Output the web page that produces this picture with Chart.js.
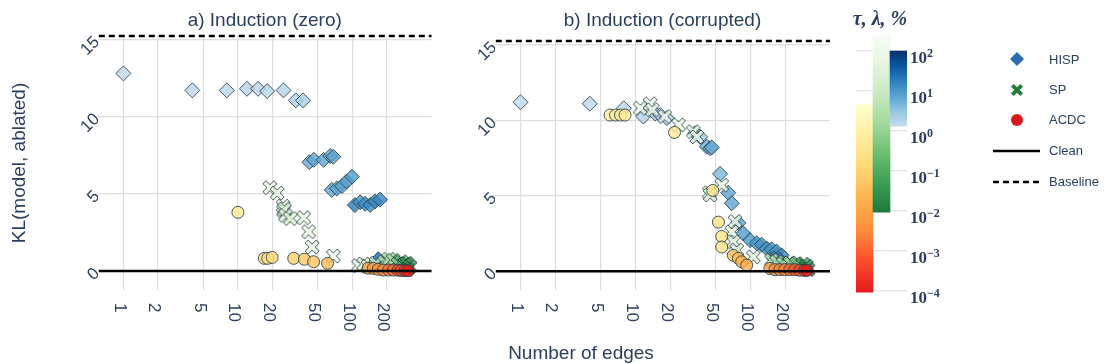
<!DOCTYPE html>
<html>
<head>
<meta charset="utf-8">
<script src="https://cdn.jsdelivr.net/npm/chart.js@4.4.1/dist/chart.umd.min.js"></script>
<style>
  body { margin: 0; background: #fff; }
  #wrap { position: relative; width: 1106px; height: 364px; overflow: hidden; }
  canvas { position: absolute; top: 0; }
</style>
</head>
<body>
<div id="wrap">
  <canvas id="panelA" width="440" height="364" style="left:0"></canvas>
  <canvas id="panelB" width="400" height="364" style="left:440px"></canvas>
  <canvas id="scaleBar" width="266" height="364" style="left:840px"></canvas>
</div>
<script>
// ---- axis ticks / limits
const edgeTicks = [1, 2, 5, 10, 20, 50, 100, 200];
const klTicks = [0, 5, 10, 15];
const barTicks = [1e-4, 1e-3, 1e-2, 1e-1, 1, 10, 100];
const barExp = ['\u22124', '\u22123', '\u22122', '\u22121', '0', '1', '2'];
const edgeMin = 0.61, edgeMax = 490;

// ---- a) Induction (zero)
const baselineA = 15.22, klMinA = -1.23;
const hispEdgesA = [1, 4, 8, 12, 15, 18, 25, 32, 37, 42, 46, 56, 64, 68, 66, 73, 81, 89, 99, 105, 117, 129, 143, 157, 174, 168, 190, 240, 290];
const hispKlA    = [12.8, 11.7, 11.7, 11.8, 11.8, 11.65, 11.7, 11.05, 11.05, 7.05, 7.2, 7.2, 7.45, 7.4, 5.25, 5.35, 5.5, 5.8, 6.1, 4.27, 4.45, 4.35, 4.28, 4.5, 4.62, 0.76, 0.5, 0.4, 0.3];
const hispPctA   = [1.5, 1.6, 1.6, 1.7, 1.7, 1.8, 1.9, 2.2, 2.2, 6, 7, 6.5, 7, 7.5, 7, 7.5, 8, 8.5, 9, 18, 12, 13, 14, 15, 16, 30, 40, 60, 80];
const spEdgesA = [19, 22, 24.8, 25, 25.5, 26, 28.7, 37.5, 41.4, 44.4, 68, 113, 125, 137, 160, 190, 207, 227, 250, 267, 288, 297, 318, 300];
const spKlA    = [5.4, 5.05, 4.2, 3.9, 4.0, 3.6, 3.4, 3.45, 2.55, 1.55, 0.97, 0.35, 0.45, 0.3, 0.5, 0.6, 0.76, 0.7, 0.45, 0.6, 0.45, 0.5, 0.28, 0.1];
const spLamA   = [60, 60, 40, 30, 25, 40, 35, 60, 60, 60, 60, 50, 40, 30, 8, 4, 3, 2, 0.5, 0.1, 0.05, 0.03, 0.02, 0.015];
const acdcEdgesA = [10, 17, 18.2, 19.9, 30.7, 38, 45.8, 60.6, 137, 152, 168, 186, 207, 227, 251, 267, 288, 305];
const acdcKlA    = [3.8, 0.82, 0.82, 0.88, 0.82, 0.76, 0.6, 0.5, 0.18, 0.17, 0.11, 0.06, 0.06, 0.06, 0.05, 0.04, 0.03, 0.02];
const acdcTauA   = [0.5, 0.2, 0.2, 0.15, 0.08, 0.06, 0.05, 0.03, 0.01, 0.008, 0.005, 0.003, 0.002, 0.0012, 0.0007, 0.0004, 0.0002, 0.0001];

// ---- b) Induction (corrupted)
const baselineB = 15.26, klMinB = -1.25;
const hispEdgesB = [1, 4, 7.9, 11.7, 14.8, 16.4, 18.7, 33, 36.4, 41.6, 44.5, 46, 54.3, 64, 68.6, 78.3, 86.5, 99, 113, 125, 138, 152, 168, 186, 160, 180, 230, 280];
const hispKlB    = [11.2, 11.1, 10.8, 10.25, 10.45, 10.35, 10.15, 9.15, 8.9, 8.25, 8.15, 8.2, 6.45, 5.2, 4.5, 3.2, 2.5, 2.05, 1.85, 1.75, 1.5, 1.45, 1.3, 1.05, 0.85, 0.75, 0.45, 0.3];
const hispPctB   = [1.5, 1.6, 1.7, 2, 2, 2.2, 2.2, 2.5, 2.5, 5.5, 6, 6, 4.5, 7, 7, 8, 9, 10, 10, 11, 12, 12, 13, 14, 15, 20, 30, 40];
const spEdgesB = [11, 13.4, 14, 17.9, 23.6, 31.8, 34.1, 43.8, 44.5, 56.1, 73.3, 68.6, 70.8, 75.7, 105.5, 152, 168, 192, 220, 250, 286, 306, 316];
const spKlB    = [10.8, 11.1, 10.7, 10.25, 9.7, 9.25, 8.9, 5.2, 5.05, 5.7, 3.3, 2.6, 1.95, 1.4, 0.95, 0.73, 0.62, 0.5, 0.55, 0.5, 0.46, 0.33, 0.11];
const spLamB   = [80, 90, 80, 80, 70, 70, 60, 70, 70, 60, 60, 50, 40, 40, 30, 5, 3, 2, 1, 0.3, 0.05, 0.02, 0.012];
const acdcEdgesB = [6, 6.7, 7.4, 8.1, 21.8, 46.9, 52.5, 56.1, 56.1, 70.8, 78.3, 83.7, 92.5, 147, 163, 179, 198, 219, 242, 267, 295, 310];
const acdcKlB    = [10.35, 10.35, 10.35, 10.35, 9.2, 5.35, 3.25, 2.3, 1.6, 1.05, 0.85, 0.62, 0.4, 0.18, 0.1, 0.1, 0.1, 0.1, 0.1, 0.06, 0.05, 0.05];
const acdcTauB   = [0.7, 0.7, 0.6, 0.6, 0.5, 0.3, 0.25, 0.25, 0.25, 0.04, 0.03, 0.02, 0.015, 0.008, 0.005, 0.003, 0.002, 0.0012, 0.0007, 0.0004, 0.0002, 0.0001];

// ---- colour scales (tau / lambda / %)
const acdcRange = [9.4e-5, 4.5];
const spRange = [0.0094, 250];
const hispRange = [1.33, 100];
const acdcStops = ['#e31a1c', '#fc4e2a', '#fd8d3c', '#feb24c', '#fed976', '#ffeda0', '#ffffcc'];
const spStops = ['#1e7b3b', '#3a9e55', '#6cbf72', '#a1d99b', '#c7e9c0', '#e5f5e0', '#f7fcf5'];
const hispStops = ['#c6dbef', '#9ecae1', '#6baed6', '#4292c6', '#2171b5', '#08519c', '#08306b'];

const ink = '#2a3f5f';
const gridInk = '#dedede';
const edgeInk = 'rgba(40,62,70,0.85)';

Chart.defaults.font.family = '"Liberation Sans", Arial, sans-serif';
Chart.defaults.color = ink;

function hexRgb(h) {
  return [parseInt(h.slice(1, 3), 16), parseInt(h.slice(3, 5), 16), parseInt(h.slice(5, 7), 16)];
}
function scaleColour(stops, range, v, alpha) {
  const lo = Math.log10(range[0]), hi = Math.log10(range[1]);
  let t = (Math.log10(v) - lo) / (hi - lo);
  t = Math.max(0, Math.min(1, t));
  const p = t * (stops.length - 1);
  const i = Math.min(Math.floor(p), stops.length - 2);
  const f = p - i;
  const a = hexRgb(stops[i]), b = hexRgb(stops[i + 1]);
  const c = a.map((x, k) => Math.round(x + (b[k] - x) * f));
  return `rgba(${c[0]},${c[1]},${c[2]},${alpha})`;
}

function crossPath(g, cx, cy, r, a) {
  const pts = [[0, -a], [r - a, -r], [r, -(r - a)], [a, 0], [r, r - a], [r - a, r],
               [0, a], [-(r - a), r], [-r, r - a], [-a, 0], [-r, -(r - a)], [-(r - a), -r]];
  g.beginPath();
  pts.forEach(([px, py], i) => i ? g.lineTo(cx + px, cy + py) : g.moveTo(cx + px, cy + py));
  g.closePath();
}
function crossImage(fill) {
  const c = document.createElement('canvas');
  c.width = c.height = 18;
  const g = c.getContext('2d');
  crossPath(g, 9, 9, 7, 3);
  g.fillStyle = fill;
  g.fill();
  g.strokeStyle = edgeInk;
  g.lineWidth = 1;
  g.stroke();
  return c;
}

function pts(xs, ys) { return xs.map((x, i) => ({ x: x, y: ys[i] })); }

// rotated edge labels, panel titles
const panelDecor = {
  id: 'panelDecor',
  afterDraw(chart, args, o) {
    const { ctx, chartArea, scales: { x } } = chart;
    ctx.save();
    ctx.fillStyle = ink;
    ctx.font = '17px "Liberation Sans", Arial, sans-serif';
    ctx.textAlign = 'left';
    ctx.textBaseline = 'middle';
    x.ticks.forEach(t => {
      ctx.save();
      ctx.translate(x.getPixelForValue(t.value), chartArea.bottom + 13);
      ctx.rotate(Math.PI / 2);
      ctx.fillText(String(t.value), 0, 4);
      ctx.restore();
    });
    ctx.font = '19px "Liberation Sans", Arial, sans-serif';
    ctx.textAlign = 'center';
    ctx.fillText(o.title, (chartArea.left + chartArea.right) / 2, 21);
    if (o.xTitle) ctx.fillText(o.xTitle, o.xTitleX, 354);
    ctx.restore();
  }
};

function makePanel(id, s, o) {
  const hispFill = s.hispPct.map(v => scaleColour(hispStops, hispRange, v, 0.8));
  const spImgs = s.spLam.map(v => crossImage(scaleColour(spStops, spRange, v, 0.8)));
  const acdcFill = s.acdcTau.map(v => scaleColour(acdcStops, acdcRange, v, 0.8));
  return new Chart(document.getElementById(id), {
    type: 'scatter',
    data: {
      datasets: [
        { type: 'line', label: 'Baseline', data: [{ x: edgeMin, y: o.baseline }, { x: edgeMax, y: o.baseline }],
          borderColor: '#000', borderWidth: 2.5, borderDash: [6, 4], pointRadius: 0, clip: false, order: 0 },
        { type: 'line', label: 'Clean', data: [{ x: edgeMin, y: 0 }, { x: edgeMax, y: 0 }],
          borderColor: '#000', borderWidth: 2.5, pointRadius: 0, clip: false, order: 1 },
        { label: 'ACDC', data: pts(s.acdcEdges, s.acdcKl), pointStyle: 'circle', pointRadius: 6,
          pointBackgroundColor: acdcFill, pointBorderColor: edgeInk, pointBorderWidth: 1, order: 2 },
        { label: 'SP', data: pts(s.spEdges, s.spKl), pointStyle: spImgs, pointRadius: 7, order: 3 },
        { label: 'HISP', data: pts(s.hispEdges, s.hispKl), pointStyle: 'rectRot', pointRadius: 7.5,
          pointBackgroundColor: hispFill, pointBorderColor: edgeInk, pointBorderWidth: 1, order: 4 }
      ]
    },
    options: {
      responsive: false,
      animation: false,
      layout: { padding: { top: o.top, right: o.right, left: 0, bottom: 0 } },
      plugins: { legend: { display: false }, tooltip: { enabled: false }, panelDecor: o },
      scales: {
        x: {
          type: 'logarithmic', min: edgeMin, max: edgeMax,
          afterBuildTicks: sc => { sc.ticks = edgeTicks.map(v => ({ value: v })); },
          afterFit: sc => { sc.height = 74; },
          ticks: { display: false },
          grid: { color: gridInk, lineWidth: 1.2, drawTicks: false },
          border: { display: false }
        },
        y: {
          type: 'linear', min: o.klMin, max: o.baseline,
          afterBuildTicks: sc => { sc.ticks = klTicks.map(v => ({ value: v })); },
          afterFit: sc => { sc.width = o.yWidth; },
          ticks: { font: { size: 17 }, color: ink, minRotation: 45, maxRotation: 45, padding: 1 },
          grid: { color: gridInk, lineWidth: 1.2, drawTicks: false },
          border: { display: false },
          title: { display: !!o.yTitle, text: o.yTitle, color: ink, font: { size: 19 }, padding: { top: 8, bottom: 0 } }
        }
      }
    },
    plugins: [panelDecor]
  });
}

makePanel('panelA', {
  hispEdges: hispEdgesA, hispKl: hispKlA, hispPct: hispPctA,
  spEdges: spEdgesA, spKl: spKlA, spLam: spLamA,
  acdcEdges: acdcEdgesA, acdcKl: acdcKlA, acdcTau: acdcTauA
}, { title: 'a) Induction (zero)', baseline: baselineA, klMin: klMinA, top: 36, right: 8, yWidth: 98,
     yTitle: 'KL(model, ablated)' });

makePanel('panelB', {
  hispEdges: hispEdgesB, hispKl: hispKlB, hispPct: hispPctB,
  spEdges: spEdgesB, spKl: spKlB, spLam: spLamB,
  acdcEdges: acdcEdgesB, acdcKl: acdcKlB, acdcTau: acdcTauB
}, { title: 'b) Induction (corrupted)', baseline: baselineB, klMin: klMinB, top: 41, right: 10, yWidth: 55,
     xTitle: 'Number of edges', xTitleX: 141 });

// ---- colour bars + legend
const barRanges = [acdcRange, spRange, hispRange];
const barStops = [acdcStops, spStops, hispStops];

const scaleDecor = {
  id: 'scaleDecor',
  afterDraw(chart) {
    const { ctx, chartArea, scales: { y } } = chart;
    ctx.save();
    ctx.fillStyle = ink;
    ctx.textBaseline = 'middle';
    ctx.textAlign = 'left';
    barTicks.forEach((v, i) => {
      const py = y.getPixelForValue(v);
      ctx.font = 'bold 17px "Liberation Serif", serif';
      ctx.fillText('10', chartArea.right + 3, py + 8);
      const w = ctx.measureText('10').width;
      ctx.font = 'bold 12px "Liberation Serif", serif';
      ctx.fillText(barExp[i], chartArea.right + 3 + w, py + 3);
    });
    ctx.font = 'bold italic 20px "Liberation Serif", serif';
    ctx.textAlign = 'center';
    ctx.fillText('\u03c4, \u03bb, %', 40, 20);

    // legend
    const mx = 177, tx = 209;
    ctx.font = '13px "Liberation Sans", Arial, sans-serif';
    ctx.textAlign = 'left';
    ctx.fillStyle = '#2b6db3';
    ctx.beginPath();
    ctx.moveTo(mx, 52); ctx.lineTo(mx + 7, 59); ctx.lineTo(mx, 66); ctx.lineTo(mx - 7, 59);
    ctx.closePath(); ctx.fill();
    ctx.fillStyle = '#237b3c';
    crossPath(ctx, mx, 90, 6, 2.7); ctx.fill();
    ctx.fillStyle = '#d7191c';
    ctx.beginPath(); ctx.arc(mx, 120, 6, 0, Math.PI * 2); ctx.fill();
    ctx.strokeStyle = '#000';
    ctx.lineWidth = 2.5;
    ctx.beginPath(); ctx.moveTo(153, 151); ctx.lineTo(200, 151); ctx.stroke();
    ctx.setLineDash([6, 4]);
    ctx.beginPath(); ctx.moveTo(153, 182); ctx.lineTo(200, 182); ctx.stroke();
    ctx.setLineDash([]);
    ctx.fillStyle = ink;
    ['HISP', 'SP', 'ACDC', 'Clean', 'Baseline'].forEach((t, i) => ctx.fillText(t, tx, [60, 90, 120, 151, 182][i]));
    ctx.restore();
  }
};

new Chart(document.getElementById('scaleBar'), {
  type: 'bar',
  data: {
    labels: ['ACDC', 'SP', 'HISP'],
    datasets: [{
      data: barRanges.map(r => [r[0], r[1]]),
      backgroundColor: c => {
        const chart = c.chart;
        if (!chart.chartArea || c.dataIndex === undefined) return 'rgba(0,0,0,0)';
        const y = chart.scales.y;
        const r = barRanges[c.dataIndex], st = barStops[c.dataIndex];
        const g = chart.ctx.createLinearGradient(0, y.getPixelForValue(r[0]), 0, y.getPixelForValue(r[1]));
        st.forEach((s, i) => g.addColorStop(i / (st.length - 1), s));
        return g;
      },
      borderWidth: 0,
      barPercentage: 1,
      categoryPercentage: 1
    }]
  },
  options: {
    responsive: false,
    animation: false,
    layout: { padding: { top: 31, bottom: 53, left: 16, right: 159 } },
    plugins: { legend: { display: false }, tooltip: { enabled: false } },
    scales: {
      x: { display: false },
      y: {
        type: 'logarithmic', position: 'right',
        min: Math.pow(10, -4.5), max: Math.pow(10, 2.5),
        afterBuildTicks: sc => { sc.ticks = barTicks.map(v => ({ value: v })); },
        afterFit: sc => { sc.width = 40; },
        ticks: { display: false },
        grid: { color: '#e2e2e2', lineWidth: 1.2, drawTicks: false },
        border: { display: false }
      }
    }
  },
  plugins: [scaleDecor]
});
</script>
</body>
</html>
